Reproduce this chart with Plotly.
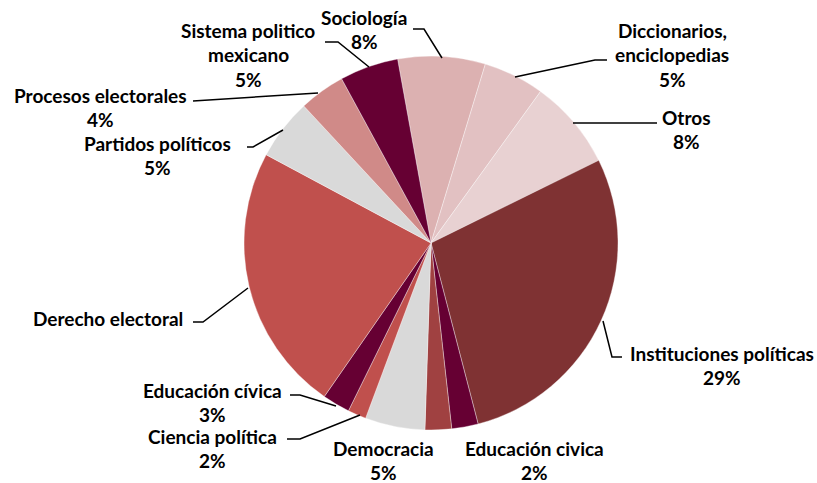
import plotly.graph_objects as go

W, H = 817, 483

# Data (clockwise from the first slice)
categories = ["Sociología", "Diccionarios, enciclopedias", "Otros", "Instituciones políticas",
              "Educación civica", "Otro", "Democracia", "Ciencia política", "Educación cívica",
              "Derecho electoral", "Partidos políticos", "Procesos electorales",
              "Sistema politico mexicano"]
values = [7.6, 5.3, 7.8, 28.4, 2.3, 2.3, 5.2, 1.6, 2.4, 23.3, 5.3, 4.0, 5.1]
colors = ["#DCB1B1", "#E2C1C2", "#E8D1D2", "#7F3233", "#660033", "#A04141", "#D9D9D9",
          "#C0504D", "#660033", "#C0504D", "#D9D9D9", "#D08A88", "#660033"]

# Label texts (lines) as shown on the chart
label_texts = [
    ["Sociología", "8%"],
    ["Diccionarios,", "enciclopedias", "5%"],
    ["Otros", "8%"],
    ["Instituciones políticas", "29%"],
    ["Educación civica", "2%"],
    [],
    ["Democracia", "5%"],
    ["Ciencia política", "2%"],
    ["Educación cívica", "3%"],
    ["Derecho electoral"],
    ["Partidos políticos", "5%"],
    ["Procesos electorales", "4%"],
    ["Sistema politico", "mexicano", "5%"],
]
# label anchor (pixel center of first line)
label_pos = [(364, 17), (672, 30), (686, 117), (722, 353), (534, 448), None, (383, 448),
             (213, 436), (212, 390), (108, 318), (157, 143), (100, 95), (248, 30)]
# leader line polylines in pixels
leaders = [
    [(413, 29), (424, 29), (442, 58)],
    [(515, 77), (595, 60), (607, 60)],
    [(573, 123), (657, 123)],
    [(603, 321), (612, 357), (622, 357)],
    None, None, None,
    [(287, 439), (300, 439), (360, 415)],
    [(290, 395), (300, 395), (336, 406)],
    [(193, 322), (203, 322), (248, 288)],
    [(247, 147), (253, 147), (283, 130)],
    [(193, 101), (318, 93)],
    [(325, 42), (338, 42), (369, 67)],
]

cx, cy, r = 431, 243, 187
fig = go.Figure(go.Pie(
    labels=categories, values=values, sort=False, direction="clockwise",
    rotation=-10.3, textinfo="none", hoverinfo="label+percent",
    marker=dict(colors=colors, line=dict(color="rgba(255,255,255,0.6)", width=0.6)),
    domain=dict(x=[(cx - r) / W, (cx + r) / W], y=[(H - cy - r) / H, (H - cy + r) / H]),
    showlegend=False,
))

def px(x):
    return x / W

def py(y):
    return 1 - y / H

annotations = []
for lines, pos in zip(label_texts, label_pos):
    if pos is None:
        continue
    for i, t in enumerate(lines):
        annotations.append(dict(
            x=px(pos[0]), y=py(pos[1] + 24.5 * i), xref="paper", yref="paper",
            text="<b>" + t + "</b>", showarrow=False, xanchor="center", yanchor="middle",
            font=dict(family="Lato", size=19, color="#000000")))

shapes = []
for pts in leaders:
    if not pts:
        continue
    path = "M " + " L ".join(f"{px(x):.5f},{py(y):.5f}" for x, y in pts)
    shapes.append(dict(type="path", path=path, xref="paper", yref="paper",
                       line=dict(color="#000000", width=1.5)))

fig.update_layout(
    width=W, height=H, margin=dict(l=0, r=0, t=0, b=0),
    paper_bgcolor="white", plot_bgcolor="white",
    annotations=annotations, shapes=shapes,
)

fig.write_html("out.html", config={"displayModeBar": False},
               post_script="document.body.style.margin='0';")
